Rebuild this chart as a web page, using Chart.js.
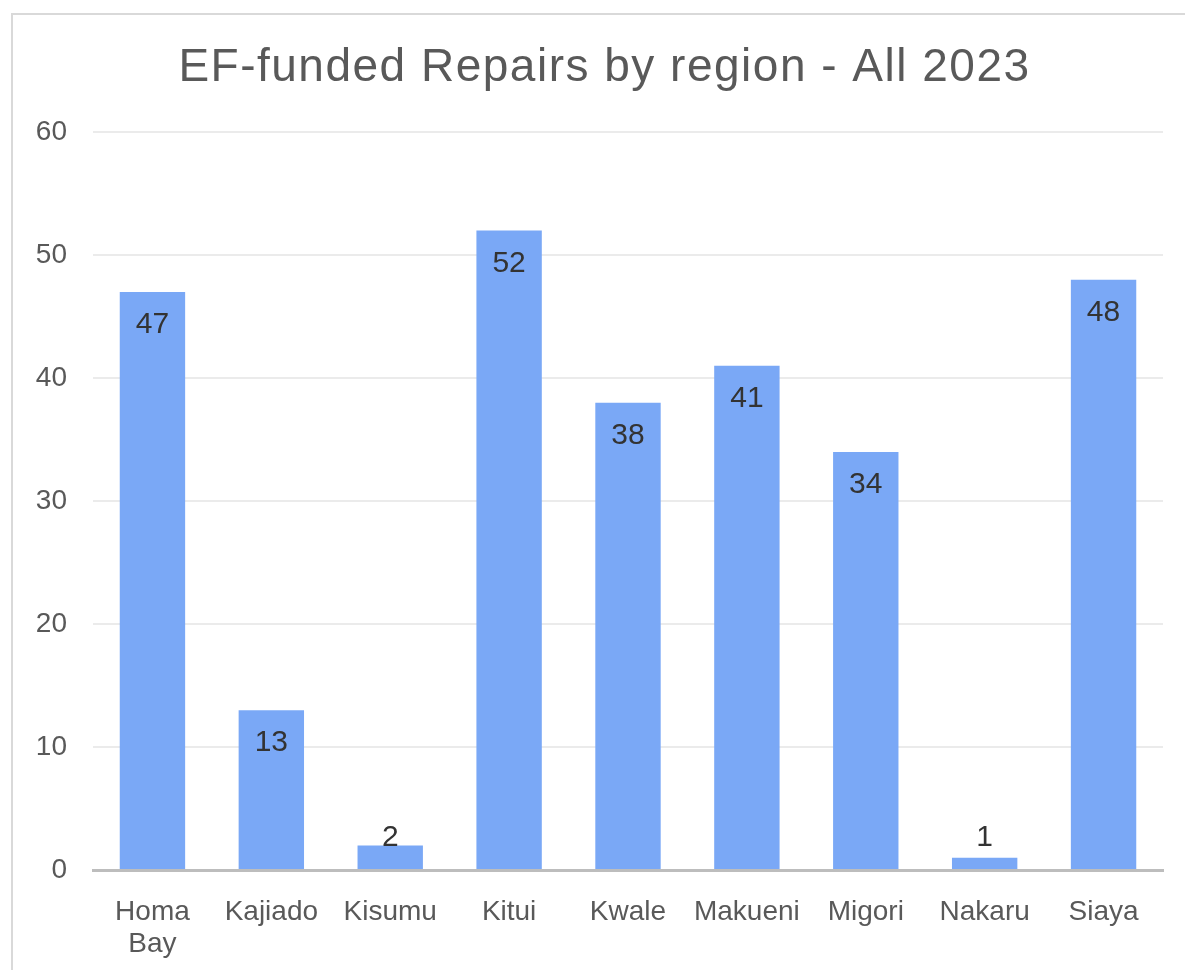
<!DOCTYPE html>
<html>
<head>
<meta charset="utf-8">
<script src="https://cdn.jsdelivr.net/npm/chart.js@4"></script>
<style>
    body { margin: 0; background: #fff; overflow: hidden; }
    #marco {
        position: absolute; left: 11px; top: 13px;
        width: 1250px; height: 1050px;
        border: 2px solid #d9d9d9;
    }
    #grafico { position: absolute; left: 0; top: 0; }
</style>
</head>
<body>
<div id="marco"></div>
<canvas id="grafico" width="1185" height="970"></canvas>
<script>
// ===================== Datos =====================
var regiones = [["Homa", "Bay"], "Kajiado", "Kisumu", "Kitui", "Kwale", "Makueni", "Migori", "Nakaru", "Siaya"];
var reparaciones = [47, 13, 2, 52, 38, 41, 34, 1, 48];
var ticksY = [0, 10, 20, 30, 40, 50, 60];

var colorBarra = "#7aa8f6";
var fuente = "'Liberation Sans', Arial, sans-serif";

// ===================== Espaciado de letras del título =====================
var pluginTitulo = {
    id: "espaciadoTitulo",
    beforeDraw: function (chart) {
        var t = chart.titleBlock;
        if (t && !t._parcheado) {
            var original = t.draw.bind(t);
            t.draw = function () {
                var ctx = chart.ctx;
                ctx.save();
                ctx.letterSpacing = "1.5px";
                ctx.translate(23, 0);
                original.apply(null, arguments);
                ctx.restore();
            };
            t._parcheado = true;
        }
    }
};

// ===================== Etiquetas sobre las barras =====================
var pluginEtiquetas = {
    id: "etiquetasBarras",
    afterDatasetsDraw: function (chart) {
        var ctx = chart.ctx;
        var meta = chart.getDatasetMeta(0);
        ctx.save();
        ctx.font = "30px " + fuente;
        ctx.fillStyle = "#333333";
        ctx.textAlign = "center";
        ctx.textBaseline = "middle";
        meta.data.forEach(function (barra, i) {
            var y = Math.min(barra.y + 33, barra.base - 31);
            ctx.fillText(String(reparaciones[i]), barra.x, y);
        });
        ctx.restore();
    }
};

new Chart(document.getElementById("grafico"), {
    type: "bar",
    data: {
        labels: regiones,
        datasets: [{
            data: reparaciones,
            backgroundColor: colorBarra,
            borderWidth: 0,
            categoryPercentage: 1,
            barPercentage: 0.55
        }]
    },
    options: {
        responsive: false,
        animation: false,
        layout: { padding: { left: 0, right: 22, top: 0, bottom: 0 } },
        plugins: {
            legend: { display: false },
            tooltip: { enabled: false },
            title: {
                display: true,
                text: "EF-funded Repairs by region - All 2023",
                color: "#595959",
                font: { family: fuente, size: 46, weight: "normal", lineHeight: 1.2 },
                padding: { top: 41, bottom: 36 }
            }
        },
        scales: {
            x: {
                grid: { display: false },
                border: { display: true, color: "#bdbdbd", width: 3 },
                ticks: {
                    color: "#595959",
                    font: { family: fuente, size: 28, lineHeight: 1.15 },
                    padding: 18,
                    maxRotation: 0,
                    autoSkip: false
                },
                afterFit: function (scale) { scale.height = 100; }
            },
            y: {
                min: 0,
                max: 60,
                afterBuildTicks: function (scale) {
                    scale.ticks = ticksY.map(function (v) { return { value: v }; });
                },
                grid: { color: "#ebebeb", lineWidth: 2, drawTicks: false },
                border: { display: false },
                ticks: {
                    color: "#595959",
                    font: { family: fuente, size: 28 },
                    padding: 26
                },
                afterFit: function (scale) { scale.width = 93; }
            }
        }
    },
    plugins: [pluginTitulo, pluginEtiquetas]
});
</script>
</body>
</html>
